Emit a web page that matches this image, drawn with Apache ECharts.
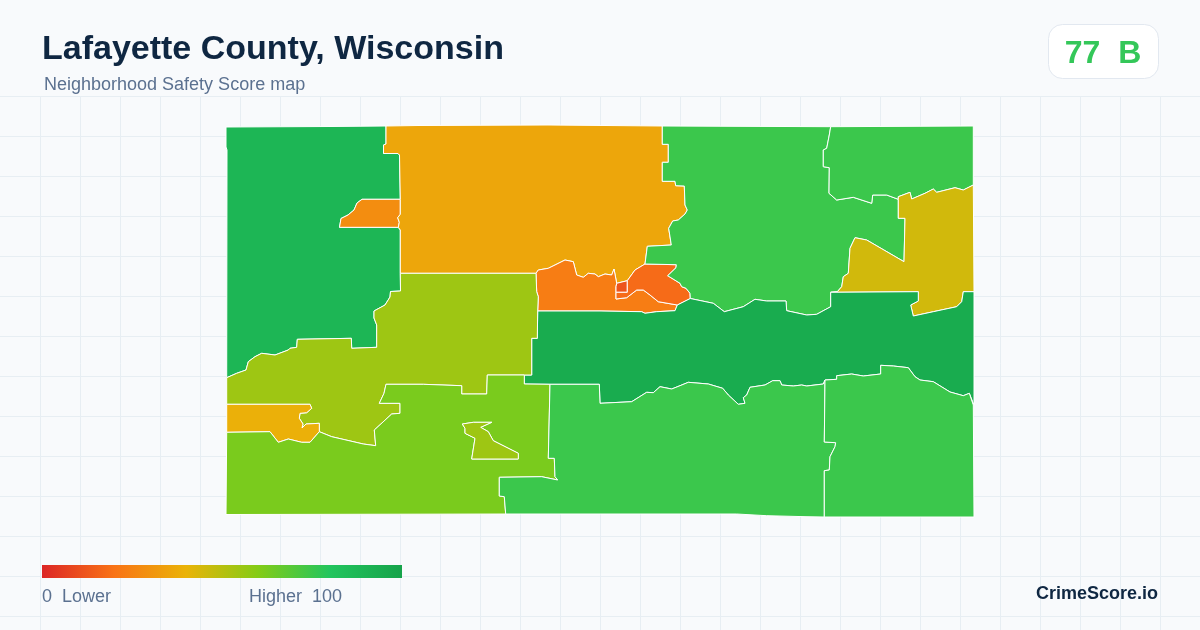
<!DOCTYPE html>
<html>
<head>
<meta charset="utf-8">
<title>Lafayette County, Wisconsin</title>
<script src="https://cdn.jsdelivr.net/npm/echarts@6/dist/echarts.min.js"></script>
<style>
html,body{margin:0;padding:0;background:#f8fafc}
#chart{width:1200px;height:630px}
</style>
</head>
<body>
<div id="chart"></div>
<script>
// values
var areaNames = ['west','enclave','north','riverWest','square','riverEast','central','northeast','eastYellow','band','midwest','pocketWest','southwest','pocket','south','southeast']
var areaScores = [89,28,36,23,12,18,75,75,45,95,55,39,62,55,75,75]
var scoreStops = ['#dc2626','#f97316','#eab308','#84cc16','#22c55e','#16a34a']

// shared borders of the map, walked once each
var topA=[[226,127],[330,126.5],[386,126]]
var topC=[[386,126],[418,125.5],[548,125],[548,126],[662.3,126]]
var topF=[[662.3,126],[830.7,126.7]]
var topH=[[830.7,126.7],[973.3,126]]
var eastH=[[973.3,126],[973.3,185]]
var eastG=[[973.3,185],[974,291.7]]
var eastI=[[974,291.7],[974,405]]
var eastO=[[974,405],[974,517]]
var southO=[[974,517],[824.3,517]]
var southN=[[824.3,517],[806,516.7],[766.7,515.7],[736.7,514],[505.7,514]]
var southL=[[505.7,514],[226,514.5]]
var westL=[[226,514.5],[226.7,432.3]]
var westK=[[226.7,432.3],[226.7,404.3]]
var westJ=[[226.7,404.3],[226.7,377.7]]
var westA=[[226.7,377.7],[227,150],[226,147],[226,127]]
var AC=[[386,126],[386,144],[383.5,145],[383.5,153.5],[398,153.5],[399.5,155],[400.3,199.3]]
var AB=[[400.3,199.3],[362,199.3],[357,203],[354,210],[348,215],[341,218.5],[339.5,227.3],[398.3,227.3]]
var BC=[[400.3,199.3],[400.3,214.3],[397.7,217.7],[399.3,222.3],[398.3,227.3]]
var AC2=[[398.3,227.3],[400.3,230],[400.3,273.3]]
var AJ=[[400.3,273.3],[400.5,291],[390.5,291.5],[390,297],[385,305],[374,311],[374,318],[376.7,325],[376.7,347.3],[351.7,348.3],[351.3,338.3],[297.3,339.3],[296.7,347.3],[290,348.3],[288.3,350],[275,355],[261.7,353.3],[255,356.7],[248.3,361.7],[246,370],[236.7,373.3],[226.7,377.7]]
var CJ=[[400.3,273.3],[536,273.3]]
var CD=[[536,273.3],[538.3,270],[548.3,268.3],[555,265],[565,260],[573.3,261.7],[576.7,275],[583.3,277.3],[588.3,273.3],[595,274],[598.3,276.7],[605,274],[611.7,275],[614,269],[616.7,283.3]]
var CP=[[616.7,283.3],[627.3,280.7]]
var CE=[[627.3,280.7],[635,270],[645,264]]
var PD=[[616.7,283.3],[616,286.7],[616,292.3]]
var PE=[[627.3,280.7],[627.3,292.3],[616,292.3]]
var DE=[[616,292.3],[616,299],[626.7,297.7],[636.7,290],[643.3,290],[650,295],[658.3,301.7],[677.3,305]]
var EI=[[677.3,305],[690.3,298.5]]
var EF=[[690.3,298.5],[690,293.3],[686,288.3],[681.7,286.7],[680,283.3],[667.7,275.7],[676,267.7],[676.3,264.7],[645,264]]
var CF=[[662.3,126],[662.3,144.3],[668.3,144.3],[668.3,162.3],[662.3,162.3],[662.3,181.3],[675,181.3],[675.7,185.7],[684.3,186],[685,205],[687.3,210],[685,214],[678.3,220],[672.7,221],[668.7,228.3],[671.3,245],[647.3,246.3],[645,264]]
var DI=[[537.7,311],[600,311],[641.7,311.7],[645,313.3],[656.7,311.7],[675,310.7],[677.3,305]]
var DJ=[[536,273.3],[536.7,291.7],[538.3,296.7],[537.7,311]]
var JI=[[537.7,311],[537.3,338.3],[531.7,338.3],[531.7,375],[524.3,375]]
var FI=[[690.3,298.5],[713.3,303.3],[724.3,311.7],[743.3,306.7],[755,299.3],[766.7,301],[786,301],[786.7,310.7],[806.7,315],[816.7,314.3],[830.7,306.7],[830.7,292.3]]
var FG=[[898.3,199.3],[898.3,218.3],[905,218.3],[904,261.7],[866.7,240],[855,237.7],[850,248.3],[848.3,273.3],[843.3,276.7],[841.7,286.7],[837.3,291.7],[830.7,292.3]]
var GI=[[830.7,292.3],[918.3,291.7],[918.3,301],[910.7,305],[913.3,316],[933.3,311.7],[956.7,306.7],[961.7,301.7],[963.3,291.7],[974,291.7]]
var FH=[[830.7,126.7],[829.3,135],[826.7,148.3],[823.3,150],[823.3,166.7],[829.3,167.7],[829,193.3],[836.7,200],[853.3,197.3],[871.7,203.3],[872.7,195],[886.7,195],[898.3,199.3]]
var GH=[[898.3,199.3],[898.3,196.7],[910,192.3],[911.7,199],[925,193.3],[933.3,189],[936.7,192.3],[955,187.7],[963.3,190],[973.3,185]]
var IO=[[974,405],[973.3,405],[969.3,393.3],[963.3,395.7],[950,392],[933.3,381.7],[920,380],[915,376.7],[908.3,367.7],[893.3,366],[880.7,365.3],[880.7,374],[863.3,376],[851.7,374],[836.7,375.7],[836.7,379.3],[825,380]]
var IN=[[825,380],[823.3,384],[806.7,386],[801.7,385],[793.3,386],[781.7,385],[780,380.7],[772.7,380.7],[765,385],[750,387.3],[746.7,395],[743.3,397.7],[745,403.3],[738.3,404.3],[728.3,395],[722.7,388.3],[708.3,384],[688.3,382.3],[680,385.7],[671.7,389],[660,386.7],[653.3,392.7],[646.7,392.3],[631.7,401.7],[600,403.3],[599.3,384.3],[550,384.3]]
var IL=[[550,384.3],[524.3,384],[524.3,375]]
var JL=[[524.3,375],[487.3,375],[486.7,394],[461.7,394],[461.7,385.7],[423.3,384.3],[386,384.3],[384,393.3],[379.3,403.3],[400,403.3],[400,413.3],[391.7,414],[374.3,430],[375.7,445.7],[363.3,444],[331.7,436.7],[319.3,431.7]]
var JK=[[319.3,431.7],[319.3,423.3],[306,424],[302,428],[303,424],[299.3,418.3],[300,413.3],[306.7,412.7],[311.7,408.3],[310,404.3],[226.7,404.3]]
var KL=[[319.3,431.7],[310,442.3],[301.7,442.3],[288.3,439],[278.3,442.3],[270,431.7],[226.7,432.3]]
var LN=[[550,384.3],[548.3,458.3],[554.3,458.3],[555,476.7],[557.7,480],[541.7,476.7],[499.3,477.3],[499.3,496],[504.3,496.7],[505.7,514]]
var NO=[[825,380],[824.3,442],[835.7,442.7],[835,446.7],[830,456.7],[829.3,470],[824.3,470.7],[824.3,517]]
var pocketRing=[[462.3,424],[465,428.3],[465,433.3],[475,438.3],[471.7,459],[518.3,459],[518.3,453.3],[493.3,440.7],[488.3,431.7],[480.7,427.3],[491.7,422.3],[473.3,422.3],[462.3,424]]

function rev(line){ return line.slice().reverse() }
function ring(){
    var out=[]
    for(var i=0;i<arguments.length;i++){ out=out.concat(arguments[i]) }
    return out
}
var areaRings = {
    west:[ring(topA,AC,AB,AC2,AJ,westA)],
    enclave:[ring(AB,rev(BC))],
    north:[ring(topC,CF,rev(CE),rev(CP),rev(CD),rev(CJ),rev(AC2),rev(BC),rev(AC))],
    riverWest:[ring(CD,PD,DE,rev(DI),rev(DJ))],
    square:[ring(CP,PE,rev(PD))],
    riverEast:[ring(CE,rev(EF),rev(EI),rev(DE),rev(PE))],
    central:[ring(topF,FH,FG,rev(FI),EF,rev(CF))],
    northeast:[ring(topH,eastH,rev(GH),rev(FH))],
    eastYellow:[ring(GH,eastG,rev(GI),rev(FG))],
    band:[ring(DI,EI,FI,GI,eastI,IO,IN,IL,rev(JI))],
    midwest:[ring(CJ,DJ,JI,JL,JK,westJ,rev(AJ))],
    pocketWest:[ring(rev(JK),KL,westK)],
    southwest:[ring(rev(IL),LN,southL,westL,rev(KL),rev(JL)),pocketRing],
    pocket:[pocketRing],
    south:[ring(rev(IN),NO,southN,rev(LN))],
    southeast:[ring(rev(IO),eastO,southO,rev(NO))]
}

var features=[]
var seriesData=[]
for(var i=0;i<areaNames.length;i++){
    features.push({
        type:'Feature',
        properties:{name:areaNames[i]},
        geometry:{type:'Polygon',coordinates:areaRings[areaNames[i]]}
    })
    seriesData.push({name:areaNames[i],value:areaScores[i]})
}
echarts.registerMap('lafayette',{type:'FeatureCollection',features:features})

// background grid
var bg=[]
for(var x=40;x<1200;x+=40){
    bg.push({type:'line',silent:true,z:-10,shape:{x1:x+0.5,y1:97,x2:x+0.5,y2:630},style:{stroke:'#e7eef3',lineWidth:1}})
}
for(var y=97;y<630;y+=40){
    bg.push({type:'line',silent:true,z:-10,shape:{x1:0,y1:y-0.5,x2:1200,y2:y-0.5},style:{stroke:'#e7eef3',lineWidth:1}})
}
var fontName='"Liberation Sans", Arial, sans-serif'
function label(txt,x,y,size,color,weight,align){
    return {type:'text',silent:true,z:5,x:x,y:y,style:{text:txt,fill:color,align:align||'left',verticalAlign:'middle',font:(weight||'normal')+' '+size+'px '+fontName}}
}
// legend bar, same stops as the visualMap
var barStops=[]
for(var s=0;s<scoreStops.length;s++){
    barStops.push({offset:s/(scoreStops.length-1),color:scoreStops[s]})
}
var overlay=[
    {type:'rect',silent:true,z:4,shape:{x:1048.5,y:24.5,width:110,height:54,r:14},style:{fill:'#ffffff',stroke:'#e2e8f0',lineWidth:1}},
    {type:'rect',silent:true,z:4,shape:{x:42,y:565,width:360,height:13},style:{fill:new echarts.graphic.LinearGradient(0,0,1,0,barStops)}},
    label('Lafayette County, Wisconsin',42,50,34,'#0f2742','bold'),
    label('Neighborhood Safety Score map',44,85,18,'#5b7190'),
    label('77  B',1103,54,32,'#34c759','bold','center'),
    label('0  Lower',42,597,18,'#5b7190'),
    label('Higher  100',249,597,18,'#5b7190'),
    label('CrimeScore.io',1158,594,18,'#0f2742','bold','right')
]

var myChart=echarts.init(document.getElementById('chart'),null,{renderer:'canvas'})
myChart.setOption({
    animation:false,
    backgroundColor:'#f8fafc',
    graphic:bg.concat(overlay),
    visualMap:{
        type:'continuous',
        show:false,
        min:0,
        max:100,
        inRange:{color:scoreStops}
    },
    series:[{
        type:'map',
        map:'lafayette',
        projection:{
            project:function(p){return p},
            unproject:function(p){return p}
        },
        left:226,
        top:125,
        width:748,
        height:392,
        silent:true,
        roam:false,
        label:{show:false},
        itemStyle:{borderColor:'#ffffff',borderWidth:1},
        emphasis:{disabled:true},
        select:{disabled:true},
        data:seriesData
    }]
})
</script>
</body>
</html>
